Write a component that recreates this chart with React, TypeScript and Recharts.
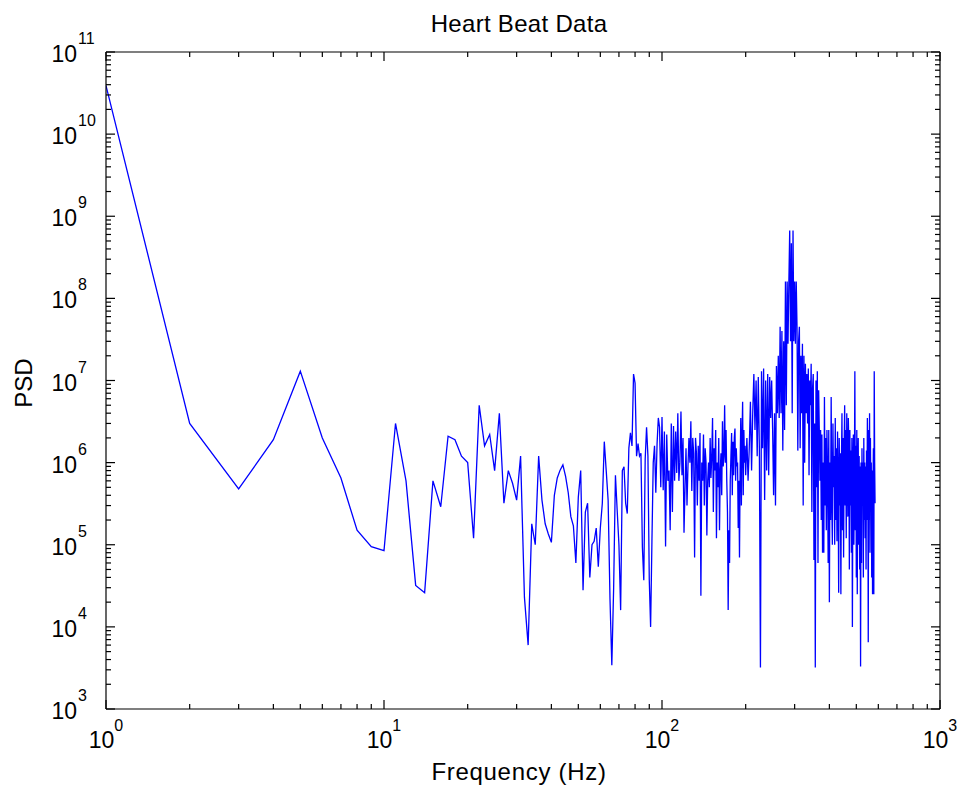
import { Line, LineChart, XAxis, YAxis } from 'recharts'

const FONT = '"Liberation Sans", Arial, Helvetica, sans-serif'

// PSD, 1 Hz bins from 1 to 100 Hz
const psdLow = [
  3.9e10, 3.0e6, 4.8e5, 1.9e6, 1.3e7, 2.0e6, 6.5e5, 1.5e5, 9.5e4, 8.5e4,
  3.0e6, 6.0e5, 3.2e4, 2.6e4, 6.0e5, 2.9e5, 2.1e6, 1.9e6, 1.2e6, 1.0e6,
  1.2e5, 5.0e6, 1.6e6, 2.2e6, 8.0e5, 4.0e6, 3.2e5, 8.0e5, 5.6e5, 3.5e5,
  1.2e6, 2.3e4, 6.0e3, 1.8e5, 1.0e5, 1.2e6, 3.5e5, 1.8e5, 1.35e5, 1.07e5,
  4.0e5, 6.5e5, 8.1e5, 9.4e5, 6.8e5, 4.3e5, 2.2e5, 1.7e5, 6.0e4, 3.8e5,
  8.0e5, 2.8e4, 2.5e5, 3.2e5, 4.0e4, 1.0e5, 1.1e5, 1.6e5, 5.4e4, 1.6e5,
  3.2e5, 1.8e6, 8.0e5, 3.5e5, 2.2e4, 3.4e3, 3.0e4, 7.0e5, 2.6e5, 1.0e5,
  1.6e4, 8.0e5, 8.9e5, 3.2e5, 2.4e5, 1.5e6, 2.3e6, 1.6e6, 1.2e7, 9.3e6,
  1.2e6, 1.7e6, 1.2e6, 1.3e6, 9.3e4, 3.7e4, 1.1e6, 2.7e6, 1.2e6, 3.7e4,
  1.0e4, 1.1e5, 1.0e6, 1.6e6, 4.3e5, 1.7e6, 3.5e6, 2.7e6, 5.0e5, 3.6e6,
]

// PSD, 1 Hz bins from 101 to 200 Hz
const psdMid = [
  4.6e5, 2.4e6, 9.5e4, 2.2e6, 6.0e5, 8.0e5, 1.5e5, 3.0e6, 2.5e5, 2.8e6,
  6.0e5, 2.4e6, 7.5e5, 4.0e6, 6.0e5, 1.0e6, 4.2e6, 7.0e5, 2.0e6, 1.4e5,
  5.0e5, 1.5e6, 3.0e5, 9.0e5, 2.0e6, 1.0e6, 3.2e6, 4.5e5, 2.0e6, 1.3e6,
  7.0e4, 2.0e6, 1.3e6, 3.0e5, 1.6e6, 6.0e5, 2.3e6, 2.4e4, 1.0e6, 6.0e5,
  2.2e6, 3.0e5, 1.5e6, 1.0e6, 1.3e5, 6.0e5, 1.0e6, 5.0e5, 2.0e6, 6.5e5,
  1.2e6, 3.5e6, 2.5e5, 1.5e6, 8.0e5, 2.5e6, 1.2e5, 1.0e6, 5.0e5, 2.0e6,
  1.5e5, 8.0e5, 1.3e6, 4.0e5, 3.2e6, 9.0e5, 1.2e6, 5.0e6, 1.0e6, 2.5e6,
  6.0e5, 2.5e5, 1.6e4, 1.5e5, 6.0e4, 6.0e5, 1.2e6, 2.3e6, 4.0e5, 1.8e6,
  7.0e5, 2.0e6, 2.6e6, 6.0e5, 1.5e6, 9.0e5, 1.0e6, 1.6e5, 6.0e5, 7.0e4,
  8.0e5, 3.5e6, 3.0e5, 2.0e6, 5.5e6, 4.0e5, 2.5e6, 1.0e6, 1.6e6, 7.0e5,
]

// PSD, every second bin from 202 to 584 Hz
const psdHigh = [
  2.0e6, 6.0e5, 1.5e6, 5.5e6, 8.0e5, 4.0e6, 1.2e7, 2.5e6, 1.0e7, 1.2e6,
  1.1e7, 1.5e6, 3.2e3, 1.3e7, 1.5e6, 1.4e7, 3.5e5, 1.0e7, 8.0e5, 1.2e7,
  7.0e5, 1.1e7, 3.5e6, 1.0e7, 2.5e6, 4.0e5, 4.0e6, 3.0e5, 1.5e7, 4.0e6,
  2.0e7, 3.5e6, 4.5e7, 4.0e6, 4.0e7, 1.4e6, 3.0e7, 2.5e6, 1.6e8, 5.0e6,
  1.6e8, 2.8e7, 1.6e8, 6.7e8, 3.0e7, 4.7e8, 4.0e6, 6.7e8, 3.0e7, 1.6e8,
  2.8e7, 1.6e8, 4.5e7, 1.4e6, 3.0e7, 4.5e7, 1.5e6, 2.0e7, 4.0e6, 2.8e7,
  3.0e5, 2.0e7, 1.0e6, 1.6e7, 4.0e6, 1.2e7, 3.0e6, 1.4e7, 7.0e5, 1.0e7,
  5.0e6, 1.6e7, 2.5e5, 8.0e6, 1.2e7, 6.5e4, 3.0e6, 3.2e3, 1.0e7, 5.0e5,
  1.3e7, 6.0e4, 7.6e6, 2.5e6, 6.0e5, 2.5e6, 2.0e5, 2.2e6, 8.0e4, 1.0e6,
  8.0e4, 6.3e6, 3.0e5, 2.0e6, 1.5e5, 2.5e6, 8.0e5, 6.0e4, 2.5e6, 2.0e4,
  1.0e6, 2.0e5, 6.3e6, 3.5e5, 1.0e5, 3.0e6, 5.0e5, 1.2e6, 1.0e5, 3.5e6,
  2.0e5, 1.5e6, 1.1e5, 2.4e6, 6.0e5, 2.6e4, 2.0e6, 3.0e5, 1.3e6, 2.5e4,
  1.0e6, 4.0e6, 1.5e5, 2.0e6, 7.0e4, 1.5e6, 5.0e6, 3.0e5, 2.5e6, 1.2e5,
  4.0e6, 1.0e6, 2.2e5, 3.5e6, 1.5e6, 5.0e4, 2.5e6, 3.0e5, 1.4e6, 8.0e4,
  2.0e6, 1.0e4, 7.0e5, 2.2e6, 1.0e5, 5.0e5, 1.3e7, 1.5e5, 1.6e6, 4.0e4,
  2.5e6, 2.5e4, 8.0e5, 2.0e6, 1.0e5, 1.2e6, 5.0e4, 9.0e5, 3.3e3, 1.0e6,
  6.0e4, 1.5e6, 3.0e5, 1.0e6, 4.0e4, 2.0e6, 2.0e5, 1.0e6, 1.2e5, 9.0e5,
  5.0e4, 1.4e6, 2.0e5, 3.5e6, 1.0e6, 6.5e3, 2.5e6, 2.0e5, 4.0e6, 8.0e4,
  2.0e6, 3.0e5, 1.0e6, 4.0e4, 8.0e5, 2.5e4, 5.0e5, 1.5e6, 2.5e4, 1.3e7,
  1.0e6, 3.2e5,
]

const xTicks = [1, 10, 100, 1000]
const yTicks = [1e3, 1e4, 1e5, 1e6, 1e7, 1e8, 1e9, 1e10, 1e11]
const minorSteps = [2, 3, 4, 5, 6, 7, 8, 9]
const xMinorTicks = xTicks.slice(0, -1).flatMap((d) => minorSteps.map((m) => m * d))
const yMinorTicks = yTicks.slice(0, -1).flatMap((d) => minorSteps.map((m) => m * d))

const data = [
  ...psdLow.map((psd, i) => ({ f: 1 + i, psd })),
  ...psdMid.map((psd, i) => ({ f: 101 + i, psd })),
  ...psdHigh.map((psd, i) => ({ f: 202 + 2 * i, psd })),
]

const W = 958
const H = 786
// mirrored tick-only axes must not be 0 thick or recharts skips them
const THIN = 0.01

function XTick({ x, y, payload }: any) {
  const exp = Math.round(Math.log10(payload.value))
  return (
    <text x={x} y={y + 39} textAnchor="middle" fontFamily={FONT} fontSize={23} fill="#000">
      <tspan>10</tspan>
      <tspan dy={-17} fontSize={16}>{exp}</tspan>
    </text>
  )
}

function YTick({ x, y, payload }: any) {
  const exp = Math.round(Math.log10(payload.value))
  return (
    <g fontFamily={FONT} fill="#000">
      <text x={x - 29} y={y + 10} textAnchor="end" fontSize={23}>10</text>
      <text x={x - 28} y={y - 8} textAnchor="start" fontSize={16}>{exp}</text>
    </g>
  )
}

function NoTick() {
  return <g />
}

const xAxisBase = {
  type: 'number' as const,
  scale: 'log' as const,
  domain: [1, 1000],
  allowDataOverflow: true,
  interval: 0 as const,
}

const yAxisBase = {
  type: 'number' as const,
  scale: 'log' as const,
  domain: [1e3, 1e11],
  allowDataOverflow: true,
  interval: 0 as const,
}

const frame = { stroke: '#000', strokeWidth: 1.2 }
const tickMark = { stroke: '#000', strokeWidth: 1.2 }

export default function App() {
  return (
    <div style={{ position: 'absolute', left: 0, top: 0, width: W, height: H, background: '#fff' }}>
      <LineChart width={W} height={H} data={data} margin={{ top: 52, right: 18, left: 46, bottom: 37 }}>
        <XAxis
          {...xAxisBase}
          xAxisId="main"
          dataKey="f"
          ticks={xTicks}
          height={40}
          axisLine={false}
          tickLine={false}
          tickSize={0}
          tickMargin={0}
          tick={<XTick />}
        />
        <XAxis {...xAxisBase} xAxisId="bMajor" dataKey="f" mirror height={THIN} ticks={xTicks} tick={<NoTick />} tickSize={9} tickLine={tickMark} axisLine={frame} />
        <XAxis {...xAxisBase} xAxisId="bMinor" dataKey="f" mirror height={THIN} ticks={xMinorTicks} tick={<NoTick />} tickSize={5} tickLine={tickMark} axisLine={false} />
        <XAxis {...xAxisBase} xAxisId="tMajor" dataKey="f" orientation="top" mirror height={THIN} ticks={xTicks} tick={<NoTick />} tickSize={9} tickLine={tickMark} axisLine={frame} />
        <XAxis {...xAxisBase} xAxisId="tMinor" dataKey="f" orientation="top" mirror height={THIN} ticks={xMinorTicks} tick={<NoTick />} tickSize={5} tickLine={tickMark} axisLine={false} />

        <YAxis
          {...yAxisBase}
          yAxisId="main"
          ticks={yTicks}
          width={60}
          axisLine={false}
          tickLine={false}
          tickSize={0}
          tickMargin={0}
          tick={<YTick />}
        />
        <YAxis {...yAxisBase} yAxisId="lMajor" mirror width={THIN} ticks={yTicks} tick={<NoTick />} tickSize={9} tickLine={tickMark} axisLine={frame} />
        <YAxis {...yAxisBase} yAxisId="lMinor" mirror width={THIN} ticks={yMinorTicks} tick={<NoTick />} tickSize={5} tickLine={tickMark} axisLine={false} />
        <YAxis {...yAxisBase} yAxisId="rMajor" orientation="right" mirror width={THIN} ticks={yTicks} tick={<NoTick />} tickSize={9} tickLine={tickMark} axisLine={frame} />
        <YAxis {...yAxisBase} yAxisId="rMinor" orientation="right" mirror width={THIN} ticks={yMinorTicks} tick={<NoTick />} tickSize={5} tickLine={tickMark} axisLine={false} />

        {/* invisible series so every tick-only axis pair has something bound to it */}
        <Line xAxisId="bMajor" yAxisId="lMajor" dataKey="psd" stroke="none" dot={false} activeDot={false} isAnimationActive={false} />
        <Line xAxisId="bMinor" yAxisId="lMinor" dataKey="psd" stroke="none" dot={false} activeDot={false} isAnimationActive={false} />
        <Line xAxisId="tMajor" yAxisId="rMajor" dataKey="psd" stroke="none" dot={false} activeDot={false} isAnimationActive={false} />
        <Line xAxisId="tMinor" yAxisId="rMinor" dataKey="psd" stroke="none" dot={false} activeDot={false} isAnimationActive={false} />

        <Line
          xAxisId="main"
          yAxisId="main"
          type="linear"
          dataKey="psd"
          stroke="#0000ff"
          strokeWidth={1.3}
          dot={false}
          activeDot={false}
          isAnimationActive={false}
        />
      </LineChart>

      <svg width={W} height={H} style={{ position: 'absolute', left: 0, top: 0, pointerEvents: 'none' }}>
        <g fontFamily={FONT} fill="#000">
          <text x={519} y={32} textAnchor="middle" fontSize={24} letterSpacing={0.3}>Heart Beat Data</text>
          <text x={519} y={780} textAnchor="middle" fontSize={24} letterSpacing={0.7}>Frequency (Hz)</text>
          <text x={32} y={383} textAnchor="middle" fontSize={24} transform="rotate(-90 32 383)">PSD</text>
        </g>
      </svg>
    </div>
  )
}
